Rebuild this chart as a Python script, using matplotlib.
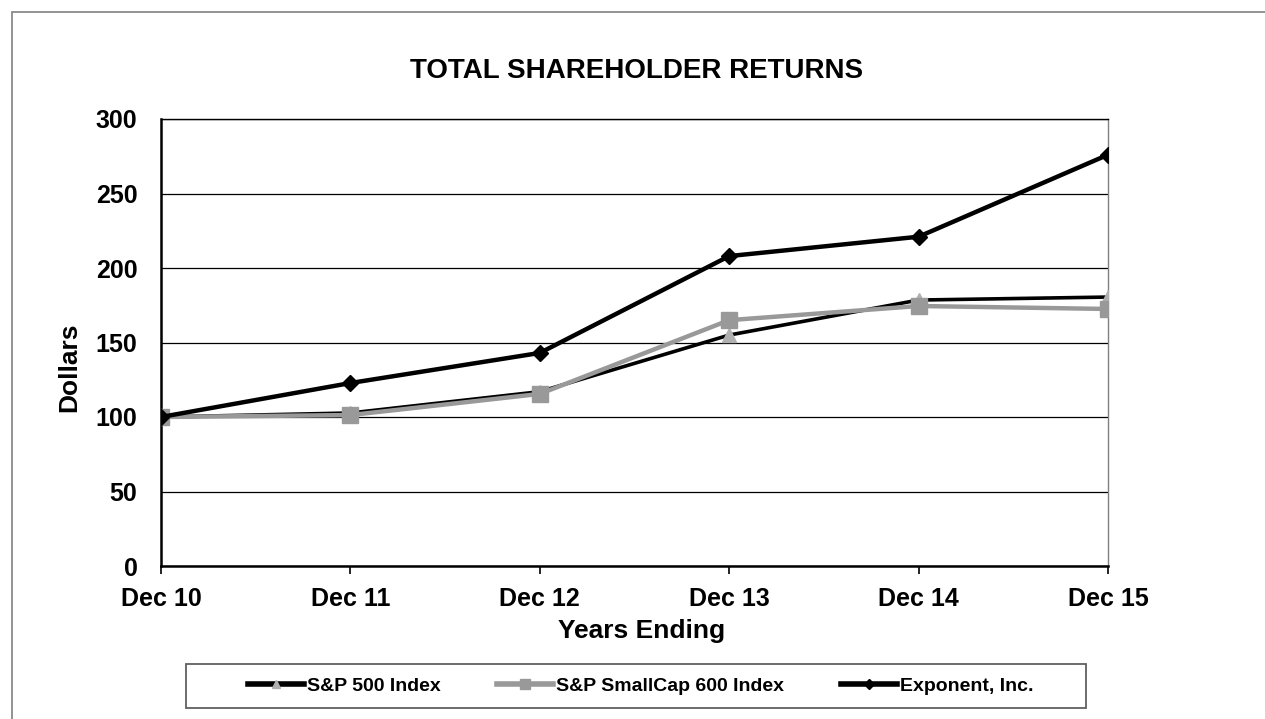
import matplotlib
matplotlib.use("Agg")
import matplotlib.pyplot as plt
from matplotlib.patches import Rectangle

plt.rcParams['font.family'] = ['Liberation Sans', 'DejaVu Sans']

categories = ["Dec 10", "Dec 11", "Dec 12", "Dec 13", "Dec 14", "Dec 15"]
sp500 = [100, 102.7, 117, 155, 178.5, 180.5]
smallcap = [100, 101.3, 115.5, 165, 174.5, 172.5]
exponent = [100, 122.8, 143, 208, 221, 276]
yticks = [0, 50, 100, 150, 200, 250, 300]

W, H = 1265, 719
fig = plt.figure(figsize=(W / 100, H / 100), dpi=100)


def fx(px):
    return px / W


def fy(py):
    return 1 - py / H


# outer frame
fig.patches.append(Rectangle((fx(12), -0.01), (W + 10) / W, (H - 12) / H + 0.01,
                             transform=fig.transFigure, fill=False,
                             edgecolor='#808080', linewidth=1.2))

ax = fig.add_axes([fx(161), fy(566), (1108 - 161) / W, (566 - 119) / H])
x = list(range(len(categories)))

ax.plot(x, sp500, color='black', linewidth=2.6, marker='^', markersize=10,
        markerfacecolor='#b0b0b0', markeredgecolor='#b0b0b0', label='S&P 500 Index', zorder=3)
ax.plot(x, smallcap, color='#999999', linewidth=3.2, marker='s', markersize=11,
        markerfacecolor='#999999', markeredgecolor='#999999', label='S&P SmallCap 600 Index', zorder=4)
ax.plot(x, exponent, color='black', linewidth=3.2, marker='D', markersize=8,
        markerfacecolor='black', markeredgecolor='black', label='Exponent, Inc.', zorder=5)

ax.set_xlim(0, len(categories) - 1)
ax.set_ylim(0, 300)
ax.set_yticks(yticks)
ax.set_xticks(x)
ax.set_xticklabels(categories, fontsize=18, fontweight='bold')
ax.set_yticklabels([str(v) for v in yticks], fontsize=18, fontweight='bold')
ax.yaxis.grid(True, color='black', linewidth=0.9)
ax.set_axisbelow(True)
ax.tick_params(axis='x', direction='out', length=6, width=1.2, pad=9, color='black')
ax.tick_params(axis='y', direction='out', length=0, pad=17)
for side in ['left', 'bottom', 'top']:
    ax.spines[side].set_color('black')
ax.spines['left'].set_linewidth(1.8)
ax.spines['bottom'].set_linewidth(1.8)
ax.spines['top'].set_linewidth(1.0)
ax.spines['right'].set_color('#808080')
ax.spines['right'].set_linewidth(1.0)

fig.text(fx(69), fy(367), 'Dollars', rotation=90, ha='center', va='center',
         fontsize=19, fontweight='bold')
fig.text(fx(642), fy(631), 'Years Ending', ha='center', va='center',
         fontsize=19, fontweight='bold')
fig.text(fx(637), fy(71), 'TOTAL SHAREHOLDER RETURNS',
         ha='center', va='center', fontsize=20, fontweight='bold')

# legend box
fig.patches.append(Rectangle((fx(186), fy(708)), (1086 - 186) / W, (708 - 664) / H,
                             transform=fig.transFigure, fill=False,
                             edgecolor='#606060', linewidth=1.3))

leg = fig.legend(loc='center left', bbox_to_anchor=(fx(230), fy(686)), ncol=3,
                 frameon=False, prop={'weight': 'bold', 'size': 14},
                 handlelength=2.9, handletextpad=0.15, columnspacing=2.9,
                 markerscale=0.6)
for line in leg.get_lines():
    line.set_linewidth(4)

fig.savefig('out.png', dpi=100)
